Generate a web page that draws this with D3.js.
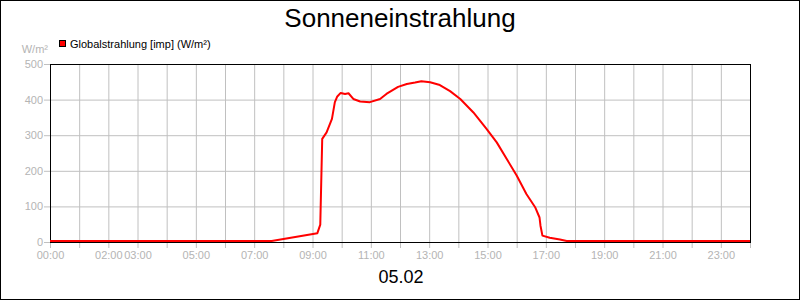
<!DOCTYPE html>
<html>
<head>
<meta charset="utf-8">
<script src="https://cdn.jsdelivr.net/npm/d3@7/dist/d3.min.js"></script>
<style>
  body { margin: 0; background: #fff; }
  svg { display: block; font-family: "Liberation Sans", Arial, sans-serif; }
</style>
</head>
<body>
<svg id="chart" width="800" height="300"></svg>
<script>
// ---- data ----
const title = "Sonneneinstrahlung";
const dateLabel = "05.02";
const seriesName = "Globalstrahlung [imp] (W/m²)";
const yUnit = "W/m²";
const times = ["00:00","07:36","09:10","09:16","09:20","09:29","09:40","09:46","09:51","09:58",
  "10:07","10:14","10:24","10:38","10:58","11:19","11:32","11:56","12:14","12:31","12:44",
  "13:02","13:22","13:43","14:04","14:31","14:58","15:19","16:00","16:20","16:38","16:47",
  "16:49","16:53","17:08","17:29","17:43","24:00"];
const values = [0,0,22,46,287,305,343,390,406,416,
  413,415,399,392,390,399,413,433,441,445,449,
  446,438,421,399,361,315,277,184,132,95,66,
  43,15,9,4,0,0];
const yTicks = [0,100,200,300,400,500];
const xTickLabels = ["00:00","02:00","03:00","05:00","07:00","09:00","11:00","13:00","15:00","17:00","19:00","21:00","23:00"];

// ---- layout ----
const svg = d3.select("#chart");
const W = 800, H = 300;
const m = {left: 50, right: 750, top: 64, bottom: 242};
const toHours = t => { const [h, mm] = t.split(":").map(Number); return h + mm / 60; };
const x = d3.scaleLinear().domain([0, 24]).range([m.left, m.right]);
const y = d3.scaleLinear().domain([0, 500]).range([m.bottom, m.top]);
const gridColor = "#c0c0c0";
const labelColor = "#b4b4b4";
const hours = d3.range(0, 25);

svg.append("rect").attr("x", 0.5).attr("y", 0.5).attr("width", W - 1).attr("height", H - 1)
  .attr("fill", "#fff").attr("stroke", "#000");

// grid
const gx = svg.append("g").attr("transform", `translate(0,${m.bottom})`)
  .call(d3.axisBottom(x).tickValues(hours).tickSize(-(m.bottom - m.top)).tickFormat(""));
gx.select(".domain").remove();
gx.selectAll("line").attr("stroke", gridColor);
const gy = svg.append("g").attr("transform", `translate(${m.left},0)`)
  .call(d3.axisLeft(y).tickValues(yTicks).tickSize(-(m.right - m.left)).tickFormat(""));
gy.select(".domain").remove();
gy.selectAll("line").attr("stroke", gridColor);

// axes
const ax = svg.append("g").attr("transform", `translate(0,${m.bottom})`)
  .call(d3.axisBottom(x).tickValues(hours).tickSize(6).tickPadding(3)
    .tickFormat(h => { const s = String(h).padStart(2, "0") + ":00"; return xTickLabels.includes(s) ? s : ""; }));
ax.select(".domain").remove();
ax.selectAll("line").attr("stroke", gridColor);
ax.selectAll("text").attr("fill", labelColor).attr("font-size", 11)
  .attr("font-family", "Liberation Sans, Arial, sans-serif");

const ay = svg.append("g").attr("transform", `translate(${m.left},0)`)
  .call(d3.axisLeft(y).tickValues(yTicks).tickSize(6).tickPadding(1));
ay.select(".domain").remove();
ay.selectAll("line").attr("stroke", gridColor);
ay.selectAll("text").attr("fill", labelColor).attr("font-size", 11)
  .attr("font-family", "Liberation Sans, Arial, sans-serif");

// frame
svg.append("rect").attr("x", m.left + 0.5).attr("y", m.top + 0.5)
  .attr("width", m.right - m.left).attr("height", m.bottom - m.top)
  .attr("fill", "none").attr("stroke", "#000");

// line
const line = d3.line().x((d, i) => x(toHours(times[i]))).y(d => y(d) - 1);
svg.append("path").datum(values).attr("d", line)
  .attr("fill", "none").attr("stroke", "#ff0000").attr("stroke-width", 2).attr("stroke-linejoin", "round");

// texts
svg.append("text").attr("x", 400).attr("y", 27).attr("text-anchor", "middle")
  .attr("font-size", 26).attr("fill", "#000").text(title);
svg.append("text").attr("x", 401).attr("y", 283).attr("text-anchor", "middle")
  .attr("font-size", 18).attr("fill", "#000").text(dateLabel);
svg.append("text").attr("x", 48).attr("y", 53).attr("text-anchor", "end")
  .attr("font-size", 11).attr("fill", labelColor).text(yUnit);
svg.append("rect").attr("x", 59.5).attr("y", 40.5).attr("width", 6).attr("height", 6)
  .attr("fill", "#ff0000").attr("stroke", "#000");
svg.append("text").attr("x", 70).attr("y", 48).attr("font-size", 11).attr("fill", "#000").text(seriesName);
</script>
</body>
</html>
